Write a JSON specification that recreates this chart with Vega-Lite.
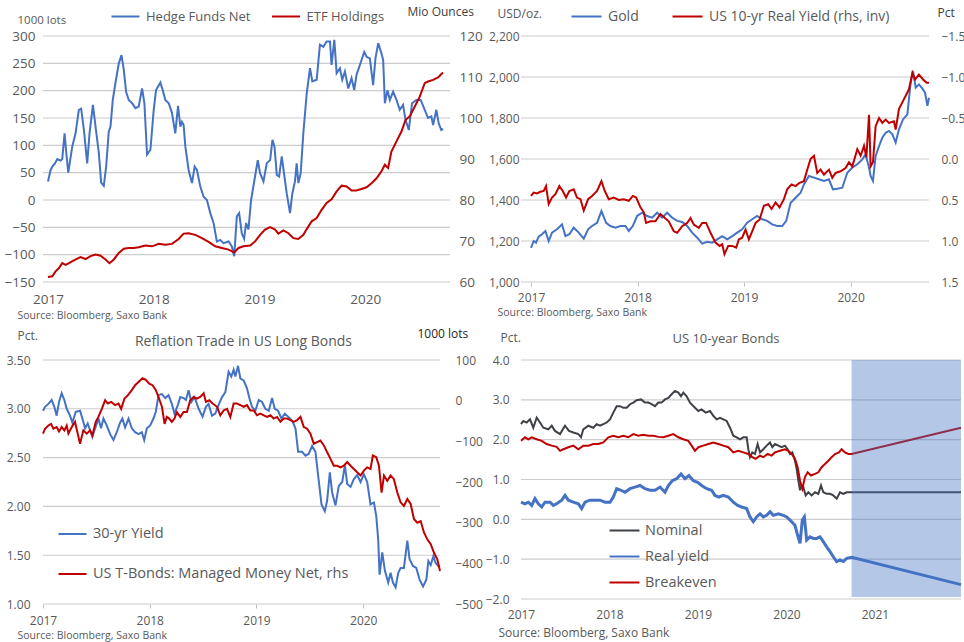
{
"$schema": "https://vega.github.io/schema/vega-lite/v6.json",
"background": "white",
"padding": {"left": 4, "top": 0, "right": 2, "bottom": 2},
"config": {
  "font": "Open Sans",
  "view": {"stroke": null},
  "axis": {"labelColor": "#595959", "labelFontSize": 12, "titleColor": "#595959", "titleFontWeight": "normal", "titleFontSize": 12, "grid": false, "domain": false, "ticks": false, "tickColor": "#bfbfbf", "tickSize": 4, "labelFlush": false, "labelOverlap": false, "labelBound": false},
  "legend": {"labelColor": "#595959", "labelFontSize": 13, "symbolType": "stroke", "symbolStrokeWidth": 3, "padding": 0, "labelLimit": 400, "title": null},
  "title": {"color": "#595959", "fontWeight": "normal", "fontSize": 14},
  "line": {"strokeWidth": 2}
},
"datasets": {
"g1": [{"v":-150},{"v":-100},{"v":-50},{"v":0},{"v":50},{"v":100},{"v":150},{"v":200},{"v":250},{"v":300}],
"g2": [{"v":1000},{"v":1200},{"v":1400},{"v":1600},{"v":1800},{"v":2000},{"v":2200}],
"g3": [{"v":1},{"v":1.5},{"v":2},{"v":2.5},{"v":3},{"v":3.5}],
"g4": [{"v":-2},{"v":-1},{"v":0},{"v":1},{"v":2},{"v":3},{"v":4}],
"hf": [{"t":2017.000,"v":34},{"t":2017.025,"v":55},{"t":2017.041,"v":61},{"t":2017.066,"v":67},{"t":2017.088,"v":75},{"t":2017.119,"v":72},{"t":2017.135,"v":75},{"t":2017.157,"v":122},{"t":2017.173,"v":86},{"t":2017.192,"v":50},{"t":2017.230,"v":98},{"t":2017.261,"v":122},{"t":2017.292,"v":165},{"t":2017.314,"v":167},{"t":2017.340,"v":128},{"t":2017.371,"v":67},{"t":2017.393,"v":122},{"t":2017.425,"v":174},{"t":2017.450,"v":134},{"t":2017.481,"v":86},{"t":2017.503,"v":32},{"t":2017.528,"v":26},{"t":2017.550,"v":61},{"t":2017.575,"v":125},{"t":2017.591,"v":134},{"t":2017.613,"v":183},{"t":2017.638,"v":214},{"t":2017.670,"v":250},{"t":2017.695,"v":265},{"t":2017.717,"v":238},{"t":2017.739,"v":198},{"t":2017.764,"v":183},{"t":2017.796,"v":177},{"t":2017.827,"v":168},{"t":2017.858,"v":171},{"t":2017.890,"v":204},{"t":2017.912,"v":177},{"t":2017.937,"v":83},{"t":2017.969,"v":92},{"t":2018.000,"v":165},{"t":2018.022,"v":201},{"t":2018.063,"v":215},{"t":2018.085,"v":201},{"t":2018.110,"v":183},{"t":2018.142,"v":177},{"t":2018.173,"v":159},{"t":2018.204,"v":122},{"t":2018.230,"v":172},{"t":2018.252,"v":134},{"t":2018.267,"v":143},{"t":2018.283,"v":137},{"t":2018.299,"v":98},{"t":2018.330,"v":55},{"t":2018.362,"v":31},{"t":2018.387,"v":61},{"t":2018.409,"v":55},{"t":2018.440,"v":25},{"t":2018.472,"v":6},{"t":2018.503,"v":0},{"t":2018.535,"v":-24},{"t":2018.566,"v":-42},{"t":2018.597,"v":-76},{"t":2018.629,"v":-73},{"t":2018.660,"v":-79},{"t":2018.708,"v":-76},{"t":2018.739,"v":-85},{"t":2018.761,"v":-103},{"t":2018.786,"v":-30},{"t":2018.808,"v":-24},{"t":2018.833,"v":-61},{"t":2018.855,"v":-71},{"t":2018.874,"v":-42},{"t":2018.896,"v":-54},{"t":2018.921,"v":0},{"t":2018.953,"v":37},{"t":2018.984,"v":73},{"t":2019.006,"v":49},{"t":2019.038,"v":34},{"t":2019.069,"v":67},{"t":2019.101,"v":73},{"t":2019.123,"v":110},{"t":2019.142,"v":98},{"t":2019.164,"v":46},{"t":2019.186,"v":43},{"t":2019.211,"v":80},{"t":2019.236,"v":43},{"t":2019.258,"v":12},{"t":2019.289,"v":-24},{"t":2019.311,"v":12},{"t":2019.336,"v":34},{"t":2019.352,"v":67},{"t":2019.368,"v":31},{"t":2019.390,"v":49},{"t":2019.415,"v":122},{"t":2019.447,"v":195},{"t":2019.478,"v":241},{"t":2019.500,"v":217},{"t":2019.541,"v":220},{"t":2019.572,"v":284},{"t":2019.604,"v":280},{"t":2019.635,"v":290},{"t":2019.667,"v":290},{"t":2019.682,"v":247},{"t":2019.708,"v":293},{"t":2019.730,"v":232},{"t":2019.761,"v":241},{"t":2019.783,"v":220},{"t":2019.808,"v":235},{"t":2019.840,"v":204},{"t":2019.871,"v":223},{"t":2019.896,"v":201},{"t":2019.918,"v":229},{"t":2019.950,"v":247},{"t":2019.991,"v":271},{"t":2020.013,"v":262},{"t":2020.044,"v":259},{"t":2020.075,"v":210},{"t":2020.097,"v":259},{"t":2020.123,"v":287},{"t":2020.154,"v":268},{"t":2020.170,"v":256},{"t":2020.186,"v":177},{"t":2020.211,"v":201},{"t":2020.233,"v":183},{"t":2020.264,"v":198},{"t":2020.296,"v":183},{"t":2020.327,"v":165},{"t":2020.358,"v":174},{"t":2020.381,"v":147},{"t":2020.412,"v":128},{"t":2020.443,"v":177},{"t":2020.484,"v":183},{"t":2020.525,"v":183},{"t":2020.563,"v":165},{"t":2020.594,"v":150},{"t":2020.626,"v":153},{"t":2020.642,"v":137},{"t":2020.673,"v":165},{"t":2020.695,"v":140},{"t":2020.720,"v":128},{"t":2020.736,"v":130}],
"etf": [{"t":2017.000,"v":61.2},{"t":2017.041,"v":61.4},{"t":2017.072,"v":62.6},{"t":2017.104,"v":63.4},{"t":2017.135,"v":64.6},{"t":2017.167,"v":64.2},{"t":2017.198,"v":64.6},{"t":2017.245,"v":65.3},{"t":2017.308,"v":66.1},{"t":2017.355,"v":65.6},{"t":2017.403,"v":66.3},{"t":2017.450,"v":66.7},{"t":2017.497,"v":66.4},{"t":2017.544,"v":65.5},{"t":2017.582,"v":64.6},{"t":2017.623,"v":65.5},{"t":2017.670,"v":67.1},{"t":2017.717,"v":68.1},{"t":2017.764,"v":68.3},{"t":2017.811,"v":68.3},{"t":2017.858,"v":68.5},{"t":2017.921,"v":68.9},{"t":2017.984,"v":68.7},{"t":2018.047,"v":69.3},{"t":2018.110,"v":69.1},{"t":2018.173,"v":69.3},{"t":2018.236,"v":70.5},{"t":2018.283,"v":71.8},{"t":2018.330,"v":71.9},{"t":2018.393,"v":71.5},{"t":2018.456,"v":70.7},{"t":2018.519,"v":69.8},{"t":2018.582,"v":68.7},{"t":2018.645,"v":68.3},{"t":2018.708,"v":67.9},{"t":2018.761,"v":67.2},{"t":2018.802,"v":68.3},{"t":2018.849,"v":68.7},{"t":2018.912,"v":68.9},{"t":2018.959,"v":69.9},{"t":2019.006,"v":71.5},{"t":2019.053,"v":72.8},{"t":2019.101,"v":73.4},{"t":2019.148,"v":72.8},{"t":2019.179,"v":71.8},{"t":2019.226,"v":72.6},{"t":2019.274,"v":71.9},{"t":2019.321,"v":70.7},{"t":2019.368,"v":70.5},{"t":2019.415,"v":71.5},{"t":2019.447,"v":72.9},{"t":2019.494,"v":74.8},{"t":2019.541,"v":75.6},{"t":2019.588,"v":77.6},{"t":2019.635,"v":79.3},{"t":2019.682,"v":80.2},{"t":2019.730,"v":82.1},{"t":2019.777,"v":83.5},{"t":2019.824,"v":83.3},{"t":2019.871,"v":82.3},{"t":2019.918,"v":82.3},{"t":2019.965,"v":82.7},{"t":2020.013,"v":83.1},{"t":2020.060,"v":84.1},{"t":2020.107,"v":85.3},{"t":2020.154,"v":87.0},{"t":2020.186,"v":88.6},{"t":2020.217,"v":87.8},{"t":2020.248,"v":91.8},{"t":2020.296,"v":94.3},{"t":2020.343,"v":96.7},{"t":2020.381,"v":99.5},{"t":2020.421,"v":100.4},{"t":2020.469,"v":102.8},{"t":2020.516,"v":105.2},{"t":2020.563,"v":108.5},{"t":2020.594,"v":108.9},{"t":2020.642,"v":109.3},{"t":2020.689,"v":109.9},{"t":2020.736,"v":111.1}],
"gold": [{"t":2017.000,"v":1167},{"t":2017.025,"v":1200},{"t":2017.047,"v":1192},{"t":2017.072,"v":1221},{"t":2017.103,"v":1233},{"t":2017.135,"v":1249},{"t":2017.166,"v":1200},{"t":2017.197,"v":1241},{"t":2017.244,"v":1257},{"t":2017.291,"v":1281},{"t":2017.323,"v":1224},{"t":2017.360,"v":1233},{"t":2017.401,"v":1265},{"t":2017.448,"v":1241},{"t":2017.495,"v":1211},{"t":2017.536,"v":1257},{"t":2017.573,"v":1273},{"t":2017.620,"v":1289},{"t":2017.661,"v":1346},{"t":2017.705,"v":1289},{"t":2017.745,"v":1273},{"t":2017.792,"v":1265},{"t":2017.839,"v":1273},{"t":2017.886,"v":1273},{"t":2017.918,"v":1249},{"t":2017.955,"v":1273},{"t":2017.996,"v":1322},{"t":2018.043,"v":1338},{"t":2018.090,"v":1322},{"t":2018.137,"v":1314},{"t":2018.184,"v":1338},{"t":2018.231,"v":1314},{"t":2018.278,"v":1338},{"t":2018.325,"v":1314},{"t":2018.372,"v":1298},{"t":2018.419,"v":1293},{"t":2018.466,"v":1273},{"t":2018.513,"v":1241},{"t":2018.560,"v":1216},{"t":2018.607,"v":1187},{"t":2018.654,"v":1196},{"t":2018.701,"v":1192},{"t":2018.748,"v":1208},{"t":2018.795,"v":1224},{"t":2018.842,"v":1208},{"t":2018.889,"v":1224},{"t":2018.935,"v":1241},{"t":2018.982,"v":1257},{"t":2019.029,"v":1289},{"t":2019.076,"v":1306},{"t":2019.123,"v":1322},{"t":2019.170,"v":1306},{"t":2019.217,"v":1298},{"t":2019.264,"v":1281},{"t":2019.311,"v":1273},{"t":2019.358,"v":1273},{"t":2019.396,"v":1298},{"t":2019.437,"v":1387},{"t":2019.484,"v":1411},{"t":2019.531,"v":1436},{"t":2019.562,"v":1476},{"t":2019.609,"v":1517},{"t":2019.656,"v":1509},{"t":2019.703,"v":1501},{"t":2019.750,"v":1493},{"t":2019.797,"v":1501},{"t":2019.834,"v":1452},{"t":2019.875,"v":1455},{"t":2019.922,"v":1460},{"t":2019.969,"v":1533},{"t":2020.016,"v":1558},{"t":2020.063,"v":1574},{"t":2020.110,"v":1598},{"t":2020.141,"v":1623},{"t":2020.173,"v":1558},{"t":2020.188,"v":1517},{"t":2020.210,"v":1493},{"t":2020.235,"v":1615},{"t":2020.267,"v":1663},{"t":2020.298,"v":1704},{"t":2020.329,"v":1728},{"t":2020.360,"v":1737},{"t":2020.392,"v":1720},{"t":2020.423,"v":1680},{"t":2020.454,"v":1745},{"t":2020.492,"v":1793},{"t":2020.533,"v":1818},{"t":2020.564,"v":1972},{"t":2020.586,"v":2029},{"t":2020.611,"v":1948},{"t":2020.642,"v":1964},{"t":2020.674,"v":1943},{"t":2020.699,"v":1923},{"t":2020.721,"v":1859},{"t":2020.736,"v":1899}],
"ry": [{"t":2017.000,"v":0.45},{"t":2017.025,"v":0.41},{"t":2017.056,"v":0.42},{"t":2017.088,"v":0.40},{"t":2017.119,"v":0.39},{"t":2017.141,"v":0.33},{"t":2017.166,"v":0.55},{"t":2017.197,"v":0.47},{"t":2017.229,"v":0.43},{"t":2017.266,"v":0.33},{"t":2017.298,"v":0.39},{"t":2017.329,"v":0.47},{"t":2017.360,"v":0.39},{"t":2017.401,"v":0.37},{"t":2017.432,"v":0.47},{"t":2017.464,"v":0.49},{"t":2017.495,"v":0.63},{"t":2017.536,"v":0.49},{"t":2017.573,"v":0.45},{"t":2017.620,"v":0.39},{"t":2017.661,"v":0.27},{"t":2017.692,"v":0.39},{"t":2017.730,"v":0.49},{"t":2017.777,"v":0.47},{"t":2017.824,"v":0.50},{"t":2017.871,"v":0.49},{"t":2017.918,"v":0.51},{"t":2017.955,"v":0.45},{"t":2017.987,"v":0.47},{"t":2018.027,"v":0.59},{"t":2018.059,"v":0.65},{"t":2018.080,"v":0.78},{"t":2018.121,"v":0.76},{"t":2018.168,"v":0.76},{"t":2018.215,"v":0.67},{"t":2018.256,"v":0.72},{"t":2018.293,"v":0.76},{"t":2018.340,"v":0.88},{"t":2018.372,"v":0.90},{"t":2018.419,"v":0.82},{"t":2018.466,"v":0.78},{"t":2018.497,"v":0.72},{"t":2018.528,"v":0.80},{"t":2018.575,"v":0.84},{"t":2018.607,"v":0.78},{"t":2018.644,"v":0.78},{"t":2018.685,"v":0.90},{"t":2018.732,"v":1.02},{"t":2018.770,"v":1.06},{"t":2018.795,"v":1.04},{"t":2018.816,"v":1.16},{"t":2018.851,"v":1.06},{"t":2018.889,"v":1.06},{"t":2018.926,"v":1.08},{"t":2018.951,"v":0.98},{"t":2018.982,"v":0.96},{"t":2019.014,"v":0.86},{"t":2019.045,"v":0.98},{"t":2019.083,"v":0.86},{"t":2019.108,"v":0.78},{"t":2019.145,"v":0.74},{"t":2019.186,"v":0.57},{"t":2019.227,"v":0.55},{"t":2019.258,"v":0.61},{"t":2019.296,"v":0.53},{"t":2019.333,"v":0.59},{"t":2019.374,"v":0.49},{"t":2019.405,"v":0.37},{"t":2019.446,"v":0.31},{"t":2019.484,"v":0.33},{"t":2019.521,"v":0.29},{"t":2019.562,"v":0.27},{"t":2019.593,"v":0.13},{"t":2019.624,"v":0.00},{"t":2019.656,"v":-0.04},{"t":2019.687,"v":0.17},{"t":2019.718,"v":0.13},{"t":2019.750,"v":0.19},{"t":2019.797,"v":0.13},{"t":2019.828,"v":0.23},{"t":2019.859,"v":0.17},{"t":2019.906,"v":0.15},{"t":2019.953,"v":0.11},{"t":2019.985,"v":0.04},{"t":2020.016,"v":0.09},{"t":2020.063,"v":-0.12},{"t":2020.094,"v":-0.04},{"t":2020.126,"v":-0.16},{"t":2020.148,"v":-0.02},{"t":2020.173,"v":-0.54},{"t":2020.188,"v":0.09},{"t":2020.210,"v":0.04},{"t":2020.235,"v":-0.40},{"t":2020.267,"v":-0.50},{"t":2020.298,"v":-0.44},{"t":2020.329,"v":-0.48},{"t":2020.360,"v":-0.44},{"t":2020.407,"v":-0.46},{"t":2020.423,"v":-0.36},{"t":2020.454,"v":-0.61},{"t":2020.501,"v":-0.73},{"t":2020.548,"v":-0.85},{"t":2020.580,"v":-1.05},{"t":2020.605,"v":-0.97},{"t":2020.642,"v":-1.03},{"t":2020.680,"v":-0.97},{"t":2020.714,"v":-0.93},{"t":2020.736,"v":-0.93}],
"y30": [{"t":2017.000,"v":2.98},{"t":2017.019,"v":3.02},{"t":2017.050,"v":3.05},{"t":2017.081,"v":3.09},{"t":2017.106,"v":3.02},{"t":2017.128,"v":2.93},{"t":2017.150,"v":3.07},{"t":2017.175,"v":3.16},{"t":2017.200,"v":3.09},{"t":2017.222,"v":3.00},{"t":2017.253,"v":2.93},{"t":2017.275,"v":2.86},{"t":2017.307,"v":2.97},{"t":2017.347,"v":2.98},{"t":2017.369,"v":2.90},{"t":2017.394,"v":2.80},{"t":2017.419,"v":2.85},{"t":2017.441,"v":2.78},{"t":2017.463,"v":2.71},{"t":2017.488,"v":2.80},{"t":2017.519,"v":2.90},{"t":2017.544,"v":2.80},{"t":2017.566,"v":2.90},{"t":2017.597,"v":2.83},{"t":2017.629,"v":2.74},{"t":2017.660,"v":2.68},{"t":2017.691,"v":2.76},{"t":2017.723,"v":2.86},{"t":2017.744,"v":2.90},{"t":2017.769,"v":2.81},{"t":2017.801,"v":2.90},{"t":2017.832,"v":2.80},{"t":2017.863,"v":2.76},{"t":2017.895,"v":2.74},{"t":2017.926,"v":2.76},{"t":2017.948,"v":2.68},{"t":2017.973,"v":2.80},{"t":2018.004,"v":2.83},{"t":2018.035,"v":2.90},{"t":2018.057,"v":2.97},{"t":2018.082,"v":3.14},{"t":2018.114,"v":3.15},{"t":2018.145,"v":3.11},{"t":2018.176,"v":3.14},{"t":2018.207,"v":3.05},{"t":2018.232,"v":2.95},{"t":2018.264,"v":3.04},{"t":2018.286,"v":3.12},{"t":2018.317,"v":3.11},{"t":2018.339,"v":3.09},{"t":2018.364,"v":3.19},{"t":2018.389,"v":3.07},{"t":2018.420,"v":3.12},{"t":2018.458,"v":3.00},{"t":2018.495,"v":2.92},{"t":2018.526,"v":3.02},{"t":2018.551,"v":3.05},{"t":2018.583,"v":2.93},{"t":2018.614,"v":2.95},{"t":2018.645,"v":3.04},{"t":2018.677,"v":3.12},{"t":2018.708,"v":3.17},{"t":2018.739,"v":3.38},{"t":2018.764,"v":3.33},{"t":2018.786,"v":3.40},{"t":2018.802,"v":3.33},{"t":2018.827,"v":3.44},{"t":2018.849,"v":3.31},{"t":2018.880,"v":3.29},{"t":2018.911,"v":3.21},{"t":2018.933,"v":3.11},{"t":2018.958,"v":3.02},{"t":2018.989,"v":2.98},{"t":2019.021,"v":3.09},{"t":2019.052,"v":3.07},{"t":2019.083,"v":3.00},{"t":2019.115,"v":2.98},{"t":2019.146,"v":3.11},{"t":2019.171,"v":3.00},{"t":2019.202,"v":2.98},{"t":2019.233,"v":2.90},{"t":2019.265,"v":2.95},{"t":2019.296,"v":2.92},{"t":2019.333,"v":2.88},{"t":2019.365,"v":2.80},{"t":2019.390,"v":2.56},{"t":2019.427,"v":2.56},{"t":2019.459,"v":2.52},{"t":2019.490,"v":2.54},{"t":2019.521,"v":2.62},{"t":2019.552,"v":2.56},{"t":2019.577,"v":2.32},{"t":2019.609,"v":2.02},{"t":2019.640,"v":1.95},{"t":2019.662,"v":2.06},{"t":2019.687,"v":2.35},{"t":2019.709,"v":2.14},{"t":2019.740,"v":2.01},{"t":2019.771,"v":2.21},{"t":2019.803,"v":2.25},{"t":2019.828,"v":2.42},{"t":2019.850,"v":2.23},{"t":2019.881,"v":2.20},{"t":2019.912,"v":2.28},{"t":2019.943,"v":2.32},{"t":2019.975,"v":2.25},{"t":2020.006,"v":2.33},{"t":2020.037,"v":2.25},{"t":2020.068,"v":2.02},{"t":2020.100,"v":2.04},{"t":2020.122,"v":1.90},{"t":2020.140,"v":1.66},{"t":2020.153,"v":1.30},{"t":2020.178,"v":1.53},{"t":2020.203,"v":1.34},{"t":2020.234,"v":1.22},{"t":2020.256,"v":1.32},{"t":2020.278,"v":1.22},{"t":2020.303,"v":1.17},{"t":2020.328,"v":1.32},{"t":2020.350,"v":1.37},{"t":2020.381,"v":1.37},{"t":2020.413,"v":1.65},{"t":2020.434,"v":1.46},{"t":2020.466,"v":1.39},{"t":2020.497,"v":1.37},{"t":2020.528,"v":1.25},{"t":2020.560,"v":1.18},{"t":2020.591,"v":1.25},{"t":2020.610,"v":1.44},{"t":2020.632,"v":1.40},{"t":2020.657,"v":1.49},{"t":2020.678,"v":1.42},{"t":2020.703,"v":1.39},{"t":2020.719,"v":1.39}],
"tb": [{"t":2017.000,"v":-81},{"t":2017.019,"v":-69},{"t":2017.050,"v":-61},{"t":2017.075,"v":-57},{"t":2017.097,"v":-69},{"t":2017.128,"v":-65},{"t":2017.150,"v":-76},{"t":2017.175,"v":-65},{"t":2017.200,"v":-73},{"t":2017.222,"v":-61},{"t":2017.238,"v":-81},{"t":2017.269,"v":-65},{"t":2017.300,"v":-52},{"t":2017.325,"v":-81},{"t":2017.347,"v":-106},{"t":2017.378,"v":-73},{"t":2017.410,"v":-81},{"t":2017.441,"v":-73},{"t":2017.463,"v":-85},{"t":2017.494,"v":-52},{"t":2017.519,"v":-40},{"t":2017.551,"v":-20},{"t":2017.582,"v":1},{"t":2017.607,"v":-7},{"t":2017.638,"v":-3},{"t":2017.676,"v":-11},{"t":2017.707,"v":-7},{"t":2017.732,"v":-20},{"t":2017.763,"v":5},{"t":2017.794,"v":13},{"t":2017.832,"v":26},{"t":2017.863,"v":38},{"t":2017.895,"v":46},{"t":2017.932,"v":55},{"t":2017.963,"v":51},{"t":2017.995,"v":42},{"t":2018.026,"v":38},{"t":2018.057,"v":26},{"t":2018.082,"v":9},{"t":2018.114,"v":-15},{"t":2018.139,"v":-57},{"t":2018.160,"v":-40},{"t":2018.182,"v":-44},{"t":2018.207,"v":-52},{"t":2018.232,"v":-44},{"t":2018.254,"v":-28},{"t":2018.286,"v":-40},{"t":2018.317,"v":-28},{"t":2018.348,"v":-28},{"t":2018.379,"v":1},{"t":2018.411,"v":9},{"t":2018.442,"v":5},{"t":2018.473,"v":9},{"t":2018.505,"v":18},{"t":2018.526,"v":-3},{"t":2018.558,"v":1},{"t":2018.589,"v":-7},{"t":2018.630,"v":-15},{"t":2018.661,"v":-36},{"t":2018.692,"v":-24},{"t":2018.724,"v":-20},{"t":2018.755,"v":-40},{"t":2018.786,"v":-7},{"t":2018.817,"v":-7},{"t":2018.849,"v":-11},{"t":2018.880,"v":-15},{"t":2018.911,"v":-11},{"t":2018.942,"v":-24},{"t":2018.974,"v":-24},{"t":2019.005,"v":-36},{"t":2019.036,"v":-32},{"t":2019.068,"v":-36},{"t":2019.099,"v":-40},{"t":2019.130,"v":-36},{"t":2019.161,"v":-44},{"t":2019.193,"v":-40},{"t":2019.224,"v":-52},{"t":2019.255,"v":-44},{"t":2019.287,"v":-44},{"t":2019.318,"v":-48},{"t":2019.349,"v":-52},{"t":2019.380,"v":-48},{"t":2019.412,"v":-40},{"t":2019.443,"v":-65},{"t":2019.474,"v":-69},{"t":2019.505,"v":-81},{"t":2019.537,"v":-106},{"t":2019.568,"v":-102},{"t":2019.599,"v":-98},{"t":2019.631,"v":-110},{"t":2019.662,"v":-127},{"t":2019.693,"v":-143},{"t":2019.724,"v":-160},{"t":2019.756,"v":-160},{"t":2019.787,"v":-164},{"t":2019.818,"v":-160},{"t":2019.850,"v":-151},{"t":2019.881,"v":-160},{"t":2019.912,"v":-168},{"t":2019.943,"v":-176},{"t":2019.975,"v":-184},{"t":2020.006,"v":-172},{"t":2020.037,"v":-164},{"t":2020.068,"v":-168},{"t":2020.090,"v":-135},{"t":2020.122,"v":-139},{"t":2020.147,"v":-160},{"t":2020.172,"v":-226},{"t":2020.194,"v":-184},{"t":2020.225,"v":-197},{"t":2020.256,"v":-184},{"t":2020.287,"v":-193},{"t":2020.319,"v":-226},{"t":2020.350,"v":-250},{"t":2020.381,"v":-259},{"t":2020.413,"v":-242},{"t":2020.444,"v":-254},{"t":2020.475,"v":-291},{"t":2020.506,"v":-300},{"t":2020.538,"v":-296},{"t":2020.569,"v":-324},{"t":2020.600,"v":-341},{"t":2020.632,"v":-353},{"t":2020.663,"v":-374},{"t":2020.694,"v":-390},{"t":2020.719,"v":-419}],
"nom": [{"t":2017.000,"v":2.39},{"t":2017.026,"v":2.47},{"t":2017.064,"v":2.43},{"t":2017.102,"v":2.51},{"t":2017.139,"v":2.30},{"t":2017.177,"v":2.55},{"t":2017.215,"v":2.43},{"t":2017.252,"v":2.30},{"t":2017.309,"v":2.26},{"t":2017.347,"v":2.35},{"t":2017.384,"v":2.22},{"t":2017.441,"v":2.14},{"t":2017.497,"v":2.35},{"t":2017.542,"v":2.22},{"t":2017.591,"v":2.18},{"t":2017.648,"v":2.14},{"t":2017.678,"v":2.06},{"t":2017.704,"v":2.26},{"t":2017.761,"v":2.35},{"t":2017.817,"v":2.30},{"t":2017.855,"v":2.39},{"t":2017.893,"v":2.35},{"t":2017.930,"v":2.39},{"t":2017.968,"v":2.43},{"t":2018.006,"v":2.51},{"t":2018.043,"v":2.68},{"t":2018.081,"v":2.84},{"t":2018.119,"v":2.84},{"t":2018.156,"v":2.80},{"t":2018.194,"v":2.80},{"t":2018.232,"v":2.89},{"t":2018.269,"v":2.93},{"t":2018.307,"v":2.99},{"t":2018.356,"v":3.01},{"t":2018.401,"v":2.93},{"t":2018.439,"v":2.93},{"t":2018.476,"v":2.89},{"t":2018.514,"v":2.84},{"t":2018.552,"v":2.93},{"t":2018.589,"v":2.93},{"t":2018.627,"v":3.01},{"t":2018.665,"v":3.05},{"t":2018.702,"v":3.14},{"t":2018.740,"v":3.22},{"t":2018.778,"v":3.18},{"t":2018.808,"v":3.09},{"t":2018.834,"v":3.18},{"t":2018.872,"v":3.09},{"t":2018.910,"v":2.93},{"t":2018.966,"v":2.80},{"t":2019.004,"v":2.72},{"t":2019.041,"v":2.76},{"t":2019.087,"v":2.68},{"t":2019.136,"v":2.72},{"t":2019.173,"v":2.60},{"t":2019.211,"v":2.51},{"t":2019.249,"v":2.55},{"t":2019.286,"v":2.51},{"t":2019.324,"v":2.47},{"t":2019.362,"v":2.30},{"t":2019.399,"v":2.10},{"t":2019.437,"v":2.06},{"t":2019.475,"v":2.01},{"t":2019.512,"v":2.06},{"t":2019.550,"v":2.06},{"t":2019.569,"v":1.76},{"t":2019.588,"v":1.56},{"t":2019.614,"v":1.68},{"t":2019.644,"v":1.64},{"t":2019.674,"v":1.89},{"t":2019.701,"v":1.68},{"t":2019.738,"v":1.76},{"t":2019.776,"v":1.85},{"t":2019.814,"v":1.93},{"t":2019.840,"v":1.81},{"t":2019.870,"v":1.89},{"t":2019.908,"v":1.85},{"t":2019.945,"v":1.81},{"t":2019.983,"v":1.85},{"t":2020.013,"v":1.76},{"t":2020.040,"v":1.64},{"t":2020.066,"v":1.68},{"t":2020.096,"v":1.47},{"t":2020.115,"v":1.27},{"t":2020.134,"v":0.97},{"t":2020.153,"v":0.73},{"t":2020.171,"v":0.85},{"t":2020.190,"v":0.81},{"t":2020.217,"v":0.60},{"t":2020.247,"v":0.68},{"t":2020.284,"v":0.60},{"t":2020.322,"v":0.68},{"t":2020.360,"v":0.64},{"t":2020.390,"v":0.85},{"t":2020.416,"v":0.68},{"t":2020.454,"v":0.64},{"t":2020.492,"v":0.64},{"t":2020.529,"v":0.60},{"t":2020.567,"v":0.52},{"t":2020.605,"v":0.68},{"t":2020.642,"v":0.64},{"t":2020.680,"v":0.68},{"t":2020.736,"v":0.68},{"t":2021.972,"v":0.68}],
"real": [{"t":2017.000,"v":0.43},{"t":2017.045,"v":0.39},{"t":2017.083,"v":0.43},{"t":2017.121,"v":0.35},{"t":2017.158,"v":0.52},{"t":2017.196,"v":0.39},{"t":2017.234,"v":0.31},{"t":2017.271,"v":0.43},{"t":2017.328,"v":0.43},{"t":2017.365,"v":0.35},{"t":2017.403,"v":0.39},{"t":2017.460,"v":0.48},{"t":2017.497,"v":0.60},{"t":2017.535,"v":0.48},{"t":2017.591,"v":0.43},{"t":2017.648,"v":0.39},{"t":2017.685,"v":0.27},{"t":2017.723,"v":0.43},{"t":2017.780,"v":0.48},{"t":2017.836,"v":0.48},{"t":2017.893,"v":0.48},{"t":2017.949,"v":0.43},{"t":2018.006,"v":0.43},{"t":2018.043,"v":0.56},{"t":2018.081,"v":0.77},{"t":2018.130,"v":0.73},{"t":2018.175,"v":0.68},{"t":2018.232,"v":0.77},{"t":2018.288,"v":0.81},{"t":2018.345,"v":0.85},{"t":2018.401,"v":0.77},{"t":2018.458,"v":0.73},{"t":2018.514,"v":0.73},{"t":2018.571,"v":0.81},{"t":2018.627,"v":0.68},{"t":2018.665,"v":0.85},{"t":2018.710,"v":0.97},{"t":2018.759,"v":1.02},{"t":2018.808,"v":1.14},{"t":2018.853,"v":1.02},{"t":2018.898,"v":1.10},{"t":2018.947,"v":0.97},{"t":2018.996,"v":0.93},{"t":2019.041,"v":0.85},{"t":2019.098,"v":0.77},{"t":2019.154,"v":0.73},{"t":2019.192,"v":0.60},{"t":2019.237,"v":0.56},{"t":2019.286,"v":0.60},{"t":2019.343,"v":0.56},{"t":2019.399,"v":0.43},{"t":2019.448,"v":0.35},{"t":2019.493,"v":0.31},{"t":2019.550,"v":0.27},{"t":2019.588,"v":0.06},{"t":2019.625,"v":-0.06},{"t":2019.663,"v":0.06},{"t":2019.701,"v":0.14},{"t":2019.738,"v":0.06},{"t":2019.776,"v":0.10},{"t":2019.814,"v":0.19},{"t":2019.851,"v":0.10},{"t":2019.908,"v":0.14},{"t":2019.964,"v":0.10},{"t":2020.002,"v":0.06},{"t":2020.040,"v":-0.02},{"t":2020.096,"v":-0.15},{"t":2020.126,"v":-0.40},{"t":2020.153,"v":-0.60},{"t":2020.179,"v":-0.02},{"t":2020.202,"v":0.06},{"t":2020.228,"v":-0.52},{"t":2020.266,"v":-0.44},{"t":2020.303,"v":-0.48},{"t":2020.341,"v":-0.48},{"t":2020.379,"v":-0.44},{"t":2020.416,"v":-0.56},{"t":2020.454,"v":-0.69},{"t":2020.492,"v":-0.81},{"t":2020.529,"v":-0.94},{"t":2020.567,"v":-1.06},{"t":2020.605,"v":-1.02},{"t":2020.642,"v":-1.06},{"t":2020.680,"v":-0.98},{"t":2020.736,"v":-0.95},{"t":2021.972,"v":-1.64}],
"be": [{"t":2017.000,"v":1.97},{"t":2017.045,"v":2.06},{"t":2017.083,"v":2.01},{"t":2017.121,"v":2.06},{"t":2017.177,"v":2.01},{"t":2017.234,"v":1.97},{"t":2017.290,"v":1.89},{"t":2017.347,"v":1.85},{"t":2017.403,"v":1.82},{"t":2017.441,"v":1.72},{"t":2017.478,"v":1.76},{"t":2017.535,"v":1.81},{"t":2017.591,"v":1.85},{"t":2017.648,"v":1.76},{"t":2017.704,"v":1.85},{"t":2017.761,"v":1.85},{"t":2017.817,"v":1.89},{"t":2017.874,"v":1.89},{"t":2017.930,"v":1.93},{"t":2017.987,"v":2.06},{"t":2018.043,"v":2.10},{"t":2018.100,"v":2.06},{"t":2018.156,"v":2.10},{"t":2018.213,"v":2.06},{"t":2018.269,"v":2.14},{"t":2018.326,"v":2.10},{"t":2018.382,"v":2.12},{"t":2018.439,"v":2.10},{"t":2018.495,"v":2.10},{"t":2018.552,"v":2.07},{"t":2018.608,"v":2.06},{"t":2018.665,"v":2.10},{"t":2018.721,"v":2.14},{"t":2018.778,"v":2.06},{"t":2018.834,"v":2.01},{"t":2018.891,"v":1.97},{"t":2018.928,"v":1.85},{"t":2018.966,"v":1.72},{"t":2019.004,"v":1.81},{"t":2019.060,"v":1.85},{"t":2019.117,"v":1.89},{"t":2019.173,"v":1.93},{"t":2019.230,"v":1.89},{"t":2019.286,"v":1.85},{"t":2019.343,"v":1.81},{"t":2019.399,"v":1.68},{"t":2019.456,"v":1.72},{"t":2019.512,"v":1.68},{"t":2019.569,"v":1.64},{"t":2019.614,"v":1.56},{"t":2019.652,"v":1.52},{"t":2019.701,"v":1.60},{"t":2019.738,"v":1.56},{"t":2019.787,"v":1.64},{"t":2019.832,"v":1.60},{"t":2019.870,"v":1.68},{"t":2019.927,"v":1.72},{"t":2019.983,"v":1.76},{"t":2020.021,"v":1.72},{"t":2020.058,"v":1.64},{"t":2020.096,"v":1.52},{"t":2020.126,"v":1.31},{"t":2020.153,"v":0.97},{"t":2020.179,"v":0.77},{"t":2020.209,"v":1.06},{"t":2020.239,"v":1.18},{"t":2020.277,"v":1.10},{"t":2020.322,"v":1.14},{"t":2020.360,"v":1.18},{"t":2020.397,"v":1.31},{"t":2020.435,"v":1.39},{"t":2020.473,"v":1.47},{"t":2020.510,"v":1.56},{"t":2020.548,"v":1.64},{"t":2020.593,"v":1.68},{"t":2020.623,"v":1.76},{"t":2020.661,"v":1.68},{"t":2020.699,"v":1.64},{"t":2020.736,"v":1.64},{"t":2021.972,"v":2.30}],
"shade": [{"a":2020.736,"b":2021.972,"lo":-1.95,"hi":4}]
},
"columns": 2,
"align": "none",
"bounds": "flush",
"spacing": {"row": 78, "column": 71},
"resolve": {"scale": {"color": "independent", "x": "independent", "y": "independent"}, "legend": {"color": "independent"}},
"concat": [
 {
  "width": 407, "height": 246,
  "layer": [
   {"layer": [
    {"data": {"name": "g1"}, "mark": {"type": "rule", "stroke": "#cccccc", "strokeWidth": 1.1},
     "encoding": {"y": {"field": "v", "type": "quantitative", "scale": {"domain": [-150, 300], "nice": false, "zero": false}, "axis": {"values": [-150, -100, -50, 0, 50, 100, 150, 200, 250, 300], "tickCount": 10, "labelOverlap": false, "labelPadding": 8, "labelFontSize": 13.5, "title": "1000 lots", "titleFontSize": 11.5, "titleAngle": 0, "titleAlign": "left", "titleBaseline": "middle", "titleX": -26, "titleY": -16}}}},
    {"data": {"name": "hf"}, "mark": {"type": "line", "strokeWidth": 2},
     "encoding": {
      "x": {"field": "t", "type": "quantitative", "scale": {"domain": [2016.953, 2020.802], "nice": false, "zero": false},
        "axis": {"values": [2017, 2018, 2019, 2020], "tickCount": 4, "format": "d", "labelPadding": 10, "labelFontSize": 13.5, "title": "Source: Bloomberg, Saxo Bank", "titleFontSize": 10.5, "titleAlign": "left", "titleBaseline": "middle", "titleX": -26, "titleY": 33}},
      "y": {"field": "v", "type": "quantitative"},
      "color": {"datum": "Hedge Funds Net", "type": "nominal", "scale": {"domain": ["Hedge Funds Net", "ETF Holdings"], "range": ["#4472C4", "#C00000"]},
        "legend": {"orient": "none", "direction": "horizontal", "legendX": 67.5, "legendY": -34.5, "symbolSize": 784, "labelOffset": 5.5, "columnPadding": 17.5, "labelFontSize": 13}}
     }}
   ]},
   {"data": {"name": "etf"}, "mark": {"type": "line", "strokeWidth": 2},
    "encoding": {
     "x": {"field": "t", "type": "quantitative"},
     "y": {"field": "v", "type": "quantitative", "scale": {"domain": [60, 120], "nice": false, "zero": false},
       "axis": {"orient": "right", "values": [60, 70, 80, 90, 100, 110, 120], "tickCount": 7, "labelOverlap": false, "labelPadding": 9, "labelFontSize": 13.5, "title": "Mio Ounces", "titleColor": "#404040", "titleAngle": 0, "titleAlign": "left", "titleBaseline": "middle", "titleX": -43, "titleY": -25}},
     "color": {"datum": "ETF Holdings", "type": "nominal"}
    }}
  ],
  "resolve": {"scale": {"y": "independent"}}
 },
 {
  "width": 408, "height": 246,
  "layer": [
   {"layer": [
    {"data": {"name": "g2"}, "mark": {"type": "rule", "stroke": "#cccccc", "strokeWidth": 1.1},
     "encoding": {"y": {"field": "v", "type": "quantitative", "scale": {"domain": [1000, 2200], "nice": false, "zero": false}, "axis": {"values": [1000, 1200, 1400, 1600, 1800, 2000, 2200], "tickCount": 7, "labelOverlap": false, "format": ",d", "labelPadding": 2, "title": "USD/oz.", "titleAngle": 0, "titleAlign": "left", "titleBaseline": "middle", "titleX": -24, "titleY": -23}}}},
    {"data": {"name": "gold"}, "mark": {"type": "line", "strokeWidth": 2},
     "encoding": {
      "x": {"field": "t", "type": "quantitative", "scale": {"domain": [2016.906, 2020.736], "nice": false, "zero": false},
        "axis": {"values": [2017, 2018, 2019, 2020], "tickCount": 4, "format": "d", "ticks": true, "labelPadding": 6, "title": "Source: Bloomberg, Saxo Bank", "titleFontSize": 10.5, "titleAlign": "left", "titleBaseline": "middle", "titleX": -24, "titleY": 30}},
      "y": {"field": "v", "type": "quantitative"},
      "color": {"datum": "Gold", "type": "nominal", "scale": {"domain": ["Gold", "US 10-yr Real Yield (rhs, inv)"], "range": ["#4472C4", "#C00000"]},
        "legend": {"orient": "none", "direction": "horizontal", "legendX": 49.5, "legendY": -35.5, "symbolSize": 900, "labelOffset": 5.5, "columnPadding": 29, "labelFontSize": 14}}
     }}
   ]},
   {"data": {"name": "ry"}, "mark": {"type": "line", "strokeWidth": 2},
    "encoding": {
     "x": {"field": "t", "type": "quantitative"},
     "y": {"field": "v", "type": "quantitative", "scale": {"domain": [-1.5, 1.5], "reverse": true, "nice": false, "zero": false},
       "axis": {"orient": "right", "values": [-1.5, -1, -0.5, 0, 0.5, 1, 1.5], "tickCount": 7, "labelOverlap": false, "format": ".1f", "labelPadding": 12, "title": "Pct", "titleColor": "#404040", "titleAngle": 0, "titleAlign": "left", "titleBaseline": "middle", "titleX": 8, "titleY": -24}},
     "color": {"datum": "US 10-yr Real Yield (rhs, inv)", "type": "nominal"}
    }}
  ],
  "resolve": {"scale": {"y": "independent"}}
 },
 {
  "width": 397, "height": 244,
  "title": {"text": "Reflation Trade in US Long Bonds", "frame": "group", "anchor": "middle", "dx": 2, "offset": -22, "fontSize": 14},
  "layer": [
   {"layer": [
    {"data": {"name": "g3"}, "mark": {"type": "rule", "stroke": "#cccccc", "strokeWidth": 1.1},
     "encoding": {"y": {"field": "v", "type": "quantitative", "scale": {"domain": [1, 3.5], "nice": false, "zero": false}, "axis": {"values": [1, 1.5, 2, 2.5, 3, 3.5], "tickCount": 6, "labelOverlap": false, "format": ".2f", "labelPadding": 13, "title": "Pct.", "titleAngle": 0, "titleAlign": "left", "titleBaseline": "middle", "titleX": -26, "titleY": -25}}}},
    {"data": {"name": "y30"}, "mark": {"type": "line", "strokeWidth": 2},
     "encoding": {
      "x": {"field": "t", "type": "quantitative", "scale": {"domain": [2017, 2020.719], "nice": false, "zero": false},
        "axis": {"values": [2017, 2018, 2019, 2020], "tickCount": 4, "format": "d", "ticks": true, "labelPadding": 7, "title": "Source: Bloomberg, Saxo Bank", "titleFontSize": 10.5, "titleAlign": "left", "titleBaseline": "middle", "titleX": -26, "titleY": 31}},
      "y": {"field": "v", "type": "quantitative"},
      "color": {"datum": "30-yr Yield", "type": "nominal", "scale": {"domain": ["30-yr Yield", "US T-Bonds: Managed Money Net, rhs"], "range": ["#4472C4", "#C00000"]},
        "legend": {"orient": "none", "direction": "vertical", "legendX": 14.5, "legendY": 159, "symbolSize": 784, "labelOffset": 5.5, "rowPadding": 18, "labelFontSize": 14.5}}
     }}
   ]},
   {"data": {"name": "tb"}, "mark": {"type": "line", "strokeWidth": 2},
    "encoding": {
     "x": {"field": "t", "type": "quantitative"},
     "y": {"field": "v", "type": "quantitative", "scale": {"domain": [-500, 100], "nice": false, "zero": false},
       "axis": {"orient": "right", "values": [-500, -400, -300, -200, -100, 0, 100], "tickCount": 7, "labelOverlap": false, "format": "d", "labelPadding": 15, "title": "1000 lots", "titleColor": "#262626", "titleAngle": 0, "titleAlign": "left", "titleBaseline": "middle", "titleX": -23, "titleY": -27}},
     "color": {"datum": "US T-Bonds: Managed Money Net, rhs", "type": "nominal"}
    }}
  ],
  "resolve": {"scale": {"y": "independent"}}
 },
 {
  "width": 440, "height": 239,
  "title": {"text": "US 10-year Bonds", "frame": "group", "anchor": "middle", "dx": -15, "offset": -15, "fontSize": 13},
  "layer": [
   {"data": {"name": "g4"}, "mark": {"type": "rule", "stroke": "#cccccc", "strokeWidth": 1.1},
    "encoding": {"y": {"field": "v", "type": "quantitative", "scale": {"domain": [-2, 4], "nice": false, "zero": false}, "axis": {"values": [-2, -1, 0, 1, 2, 3, 4], "tickCount": 7, "labelOverlap": false, "format": ".1f", "labelPadding": 12, "title": "Pct.", "titleAngle": 0, "titleAlign": "left", "titleBaseline": "middle", "titleX": -21, "titleY": -23}}}},
   {"data": {"name": "nom"}, "mark": {"type": "line", "strokeWidth": 2},
    "encoding": {
     "x": {"field": "t", "type": "quantitative", "scale": {"domain": [2017, 2021.972], "nice": false, "zero": false},
       "axis": {"values": [2017, 2018, 2019, 2020, 2021], "tickCount": 5, "format": "d", "labelPadding": 10, "title": "Source: Bloomberg, Saxo Bank", "titleFontSize": 12, "titleAlign": "left", "titleBaseline": "middle", "titleX": -23, "titleY": 33}},
     "y": {"field": "v", "type": "quantitative"},
     "color": {"datum": "Nominal", "type": "nominal", "scale": {"domain": ["Nominal", "Real yield", "Breakeven"], "range": ["#3E4147", "#4472C4", "#C00000"]},
       "legend": {"orient": "none", "direction": "vertical", "legendX": 87.5, "legendY": 154.5, "symbolSize": 900, "labelOffset": 4.5, "rowPadding": 3, "labelFontSize": 14.5}}
    }},
   {"data": {"name": "real"}, "mark": {"type": "line", "strokeWidth": 3},
    "encoding": {
     "x": {"field": "t", "type": "quantitative"},
     "y": {"field": "v", "type": "quantitative"},
     "color": {"datum": "Real yield", "type": "nominal"}
    }},
   {"data": {"name": "be"}, "mark": {"type": "line", "strokeWidth": 2},
    "encoding": {
     "x": {"field": "t", "type": "quantitative"},
     "y": {"field": "v", "type": "quantitative"},
     "color": {"datum": "Breakeven", "type": "nominal"}
    }},
   {"data": {"name": "shade"}, "mark": {"type": "rect", "color": "#4472C4", "opacity": 0.4},
    "encoding": {
     "x": {"field": "a", "type": "quantitative"},
     "x2": {"field": "b"},
     "y": {"field": "lo", "type": "quantitative"},
     "y2": {"field": "hi"}
    }}
  ]
 }
]
}
